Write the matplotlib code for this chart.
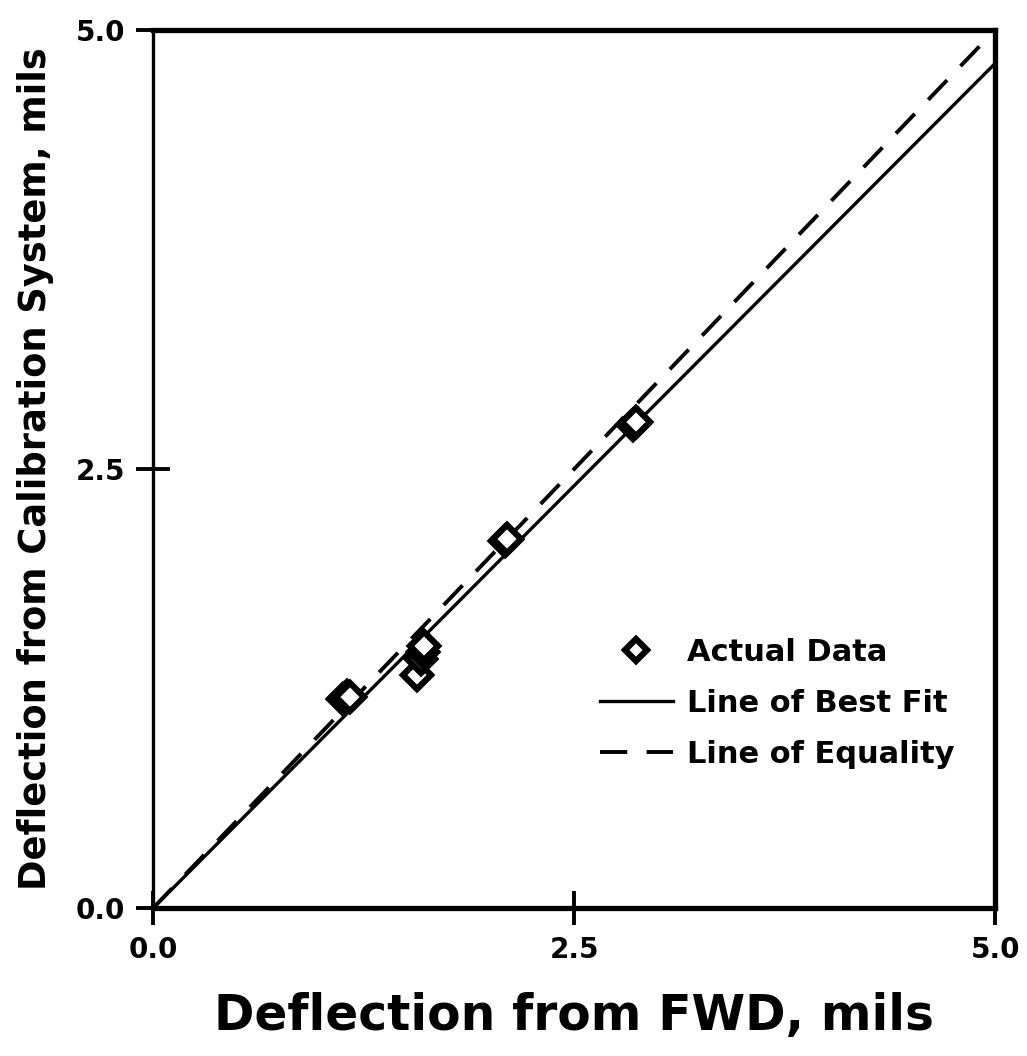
import matplotlib
matplotlib.use("Agg")
import matplotlib.pyplot as plt
import numpy as np

plt.rcParams['font.family'] = ['DejaVu Sans']

# Data
fwd = [1.13, 1.15, 1.17, 1.57, 1.59, 1.60, 1.61, 2.09, 2.10, 2.85, 2.87]
calib = [1.19, 1.21, 1.20, 1.33, 1.42, 1.46, 1.49, 2.09, 2.10, 2.75, 2.77]
fit_slope = 0.962
line_x = [0.0, 5.0]
xticks = [0.0, 2.5, 5.0]
yticks = [0.0, 2.5, 5.0]
tick_labels = ["0.0", "2.5", "5.0"]

fig = plt.figure(figsize=(10.27, 10.56), dpi=100)
ax = fig.add_axes([0.149, 0.140, 0.820, 0.8316])

ax.plot(fwd, calib, linestyle='none', marker='D', markersize=14,
        markerfacecolor='white', markeredgecolor='black', markeredgewidth=4.5,
        label='Actual Data', zorder=3)
ax.plot(line_x, [fit_slope * v for v in line_x], color='black', lw=2.4,
        label='Line of Best Fit', zorder=2)
ax.plot(line_x, line_x, color='black', lw=2.8, dashes=(7, 5),
        label='Line of Equality', zorder=2)

ax.set_xlim(0, 5)
ax.set_ylim(0, 5)
ax.set_xticks(xticks)
ax.set_yticks(yticks)
ax.set_xticklabels(tick_labels, fontsize=20, fontweight='bold')
ax.set_yticklabels(tick_labels, fontsize=20, fontweight='bold')
ax.tick_params(direction='inout', length=24, width=2.8)
ax.tick_params(axis='x', pad=8)
ax.tick_params(axis='y', pad=8)

for side in ['top', 'right', 'bottom']:
    ax.spines[side].set_linewidth(3.8)
ax.spines['left'].set_linewidth(2.4)

ax.set_xlabel('Deflection from FWD, mils', fontsize=35, fontweight='bold',
              labelpad=20)
ax.set_ylabel('Deflection from Calibration System, mils', fontsize=26.5,
              fontweight='bold', labelpad=16)

leg = ax.legend(loc='upper left', bbox_to_anchor=(0.516, 0.322), frameon=False,
                prop={'size': 22, 'weight': 'bold'}, handlelength=2.4,
                handletextpad=0.45, labelspacing=0.72, markerscale=0.8,
                borderaxespad=0)

fig.savefig('out.png', dpi=100, facecolor='white')
